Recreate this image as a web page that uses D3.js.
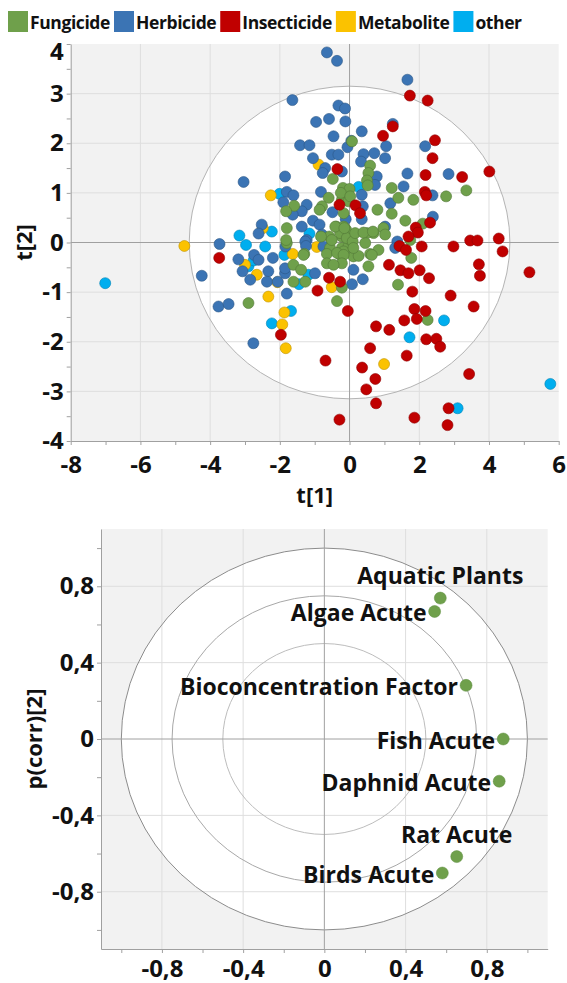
<!DOCTYPE html>
<html>
<head>
<meta charset="utf-8">
<script src="https://cdn.jsdelivr.net/npm/d3@7/dist/d3.min.js"></script>
<style>
  body { margin: 0; background: #fff; }
  svg { display: block; font-family: "Open Sans", sans-serif; font-weight: bold; }
</style>
</head>
<body>
<svg id="chart" width="567" height="983"></svg>
<script>
// Classes of the score plot
var classNames = ['Fungicide', 'Herbicide', 'Insecticide', 'Metabolite', 'other'];
var classColours = ['#6fa04b', '#3b74b4', '#c00000', '#fbc200', '#00aeef'];

// Scores t[1], t[2] per class
var fungicide = [[-0.48,1.28],[-0.19,1.10],[0.00,1.08],[-0.60,0.90],[-0.79,0.73],[-0.86,0.66],[-1.59,0.74],[-0.22,0.86],[-0.03,0.83],[-1.80,0.29],[-1.80,-0.01],[-1.30,-0.23],[-0.38,0.32],[-0.58,0.12],[-0.82,0.12],[-0.22,0.12],[-0.10,0.26],[-0.56,-0.11],[-0.22,-0.11],[-0.03,-0.08],[-0.65,-0.23],[-0.27,-0.25],[0.02,0.05],[0.11,-0.28],[0.59,1.55],[0.54,1.40],[0.50,1.25],[0.52,1.15],[1.21,1.10],[1.40,0.90],[1.83,0.86],[2.77,0.93],[3.35,1.05],[0.80,0.66],[1.21,0.58],[1.60,0.44],[2.10,0.38],[0.97,0.29],[0.69,0.19],[1.02,0.16],[0.50,0.19],[0.45,-0.01],[0.83,-0.15],[0.59,-0.23],[1.74,0.05],[0.26,-0.27],[-0.25,1.00],[0.02,0.93],[-0.17,0.59],[-0.17,0.32],[-0.27,0.19],[-0.08,0.09],[0.09,0.02],[-0.17,-0.18],[0.11,-0.11],[0.07,2.04],[-0.41,0.32],[-0.15,0.29],[0.16,0.19],[0.40,0.20],[0.67,0.22],[-0.51,0.05],[-1.82,0.05],[-1.32,-0.25],[-1.61,-0.45],[-1.39,-0.55],[-1.61,-0.79],[-1.27,-0.79],[-2.90,-1.22],[-0.36,-0.21],[-0.17,-0.25],[-0.22,-0.42],[-0.65,-0.42],[-0.46,-0.45],[0.54,-0.48],[0.64,-0.25],[-0.22,-0.91],[-0.36,-1.18],[1.39,-0.85],[1.77,-0.31],[2.24,-1.56],[-1.82,0.63]];
var herbicide = [[-0.65,3.83],[-0.36,3.66],[1.66,3.28],[-1.64,2.87],[-0.32,2.76],[-0.13,2.70],[-0.96,2.43],[-0.59,2.49],[-0.12,2.44],[1.24,2.39],[0.35,2.24],[-0.46,2.14],[-1.42,1.96],[-1.15,1.96],[-0.06,1.92],[0.05,2.05],[-1.05,1.70],[-0.51,1.77],[-0.32,1.77],[0.40,1.78],[0.71,1.80],[1.05,1.94],[1.02,1.70],[0.33,1.63],[-0.70,1.50],[-0.77,1.40],[-0.22,1.43],[2.17,1.94],[0.78,1.33],[1.66,1.39],[2.84,1.38],[-1.85,1.33],[-0.82,1.02],[0.73,1.16],[1.55,1.13],[2.38,0.95],[-1.80,1.02],[-1.61,0.95],[-1.90,0.81],[-0.06,1.05],[0.35,0.96],[1.17,0.79],[-1.23,0.76],[-0.49,0.61],[-1.37,0.63],[-1.63,0.56],[0.35,0.47],[-0.11,0.47],[-1.05,0.44],[2.39,0.52],[-1.23,0.05],[1.37,0.02],[-3.04,1.22],[-0.86,0.36],[-2.52,0.36],[-2.61,0.18],[-3.73,-0.03],[-1.37,0.32],[-1.27,0.02],[-1.25,-0.07],[-2.74,-0.25],[-3.19,-0.34],[-2.20,-0.31],[-0.75,-0.08],[0.38,0.73],[1.02,0.32],[1.31,-0.11],[-4.24,-0.67],[-3.76,-1.29],[-3.47,-1.24],[-2.76,-2.03],[-2.85,-0.75],[-2.61,-0.35],[-2.33,-0.58],[-2.37,-0.79],[-2.06,-0.79],[-1.85,-0.62],[-1.85,-0.52],[-1.80,-1.03],[-0.99,-0.62],[0.11,-0.55],[0.38,-0.74],[0.07,-0.84],[-3.07,-0.58],[-1.84,-0.08],[-0.79,0.16]];
var insecticide = [[1.73,2.96],[2.24,2.86],[2.45,2.06],[2.38,1.70],[1.24,2.34],[0.96,2.15],[4.01,1.43],[3.23,1.32],[2.18,1.36],[2.16,1.02],[2.20,0.95],[-0.35,1.48],[0.17,0.75],[0.30,0.59],[-0.29,0.76],[2.31,0.40],[1.90,0.30],[1.96,0.20],[1.69,0.12],[4.28,0.08],[3.46,0.04],[3.67,0.04],[1.43,-0.07],[1.62,-0.15],[2.07,-0.08],[2.98,-0.08],[4.39,-0.18],[1.13,-0.45],[1.46,-0.56],[1.69,-0.62],[2.01,-0.56],[2.28,-0.72],[3.71,-0.44],[3.74,-0.67],[5.16,-0.60],[-0.59,-0.71],[-0.92,-0.97],[-0.27,-0.79],[1.80,-0.99],[2.90,-1.07],[3.56,-1.29],[-0.05,-1.38],[1.86,-1.34],[2.18,-1.38],[1.57,-1.57],[1.93,-1.54],[0.76,-1.69],[1.14,-1.76],[2.20,-1.95],[2.49,-1.94],[2.60,-2.10],[0.59,-2.13],[1.64,-2.28],[-0.69,-2.38],[0.36,-2.52],[0.74,-2.75],[0.48,-2.96],[3.43,-2.65],[0.76,-3.24],[2.84,-3.34],[2.81,-3.68],[1.86,-3.53],[-0.29,-3.57],[-3.74,-0.31],[-1.97,-1.86]];
var metabolite = [[-4.74,-0.07],[-2.26,0.95],[-2.49,0.29],[-1.63,-0.23],[-0.89,1.57],[-0.94,-0.09],[-3.00,-0.45],[-2.66,-0.65],[-2.33,-1.09],[-1.87,-1.41],[-1.93,-1.65],[-1.83,-2.13],[-0.51,-0.90],[-2.07,-0.80],[0.99,-2.45]];
var other = [[-7.01,-0.82],[5.76,-2.85],[3.10,-3.34],[2.71,-1.57],[1.72,-1.91],[-1.68,-1.38],[-1.45,-0.84],[-1.18,-0.65],[-2.23,-1.63],[-2.90,-0.48],[-2.42,-0.08],[-2.97,-0.05],[-3.16,0.14],[-2.23,0.22],[-2.01,0.98],[-1.15,0.18],[-1.87,-0.25],[0.26,1.12],[-2.75,-0.36]];

// Tick values
var scoreXTicks = [-8, -6, -4, -2, 0, 2, 4, 6];
var scoreYTicks = [-4, -3, -2, -1, 0, 1, 2, 3, 4];
var loadingTicks = [-0.8, -0.4, 0, 0.4, 0.8];

// Loadings p(corr)[1], p(corr)[2]
var loadingNames = ['Aquatic Plants', 'Algae Acute', 'Bioconcentration Factor', 'Fish Acute', 'Daphnid Acute', 'Rat Acute', 'Birds Acute'];
var loadingX = [0.571, 0.543, 0.698, 0.881, 0.861, 0.652, 0.581];
var loadingY = [0.738, 0.668, 0.281, 0.000, -0.221, -0.616, -0.702];

// label placement: 'above' = centred over the point, otherwise to the left
var labelAbove = {'Aquatic Plants': true, 'Rat Acute': true};

var svg = d3.select('#chart');
var locale = d3.formatLocale({decimal: ',', thousands: '.', grouping: [3], currency: ['', ''], minus: '-'});
var fmtInt = locale.format('d');
var fmtDec = function(d) { return d === 0 ? '0' : locale.format('.1f')(d); };

var gridCol = '#dedede', axisCol = '#a0a0a0', bgCol = '#f2f2f2';

// ---------- Legend ----------
var legend = svg.append('g');
var lx0 = 8;
classNames.forEach(function(name, i) {
  legend.append('rect')
    .attr('x', lx0).attr('y', 11)
    .attr('width', 20).attr('height', 21)
    .attr('fill', classColours[i]);
  var t = legend.append('text')
    .attr('x', lx0 + 22).attr('y', 29)
    .style('font-size', '17.5px')
    .style('letter-spacing', '-0.4px')
    .attr('fill', '#111')
    .text(name);
  lx0 += 22 + t.node().getComputedTextLength() + 4;
});

// ---------- Score plot ----------
var sx = d3.scaleLinear().domain([-8, 6]).range([70.7, 558.7]);
var sy = d3.scaleLinear().domain([-4, 4]).range([441, 44]);

var scoreG = svg.append('g');
scoreG.append('rect')
  .attr('x', sx(-8)).attr('y', sy(4))
  .attr('width', sx(6) - sx(-8)).attr('height', sy(-4) - sy(4))
  .attr('fill', bgCol);
// Hotelling T2 ellipse
var ellRx = 4.6, ellRy = 3.15;
scoreG.append('ellipse')
  .attr('cx', sx(0)).attr('cy', sy(0))
  .attr('rx', sx(ellRx) - sx(0)).attr('ry', sy(0) - sy(ellRy))
  .attr('fill', '#fff');

scoreG.selectAll('.gx').data(scoreXTicks.filter(function(d) { return d !== 0 && d !== -8 && d !== 6; }))
  .enter().append('line')
  .attr('x1', function(d) { return sx(d); }).attr('x2', function(d) { return sx(d); })
  .attr('y1', sy(4)).attr('y2', sy(-4))
  .attr('stroke', gridCol);
scoreG.selectAll('.gy').data(scoreYTicks.filter(function(d) { return d !== 0 && Math.abs(d) !== 4; }))
  .enter().append('line')
  .attr('y1', function(d) { return sy(d); }).attr('y2', function(d) { return sy(d); })
  .attr('x1', sx(-8)).attr('x2', sx(6))
  .attr('stroke', gridCol);

scoreG.append('ellipse')
  .attr('cx', sx(0)).attr('cy', sy(0))
  .attr('rx', sx(ellRx) - sx(0)).attr('ry', sy(0) - sy(ellRy))
  .attr('fill', 'none').attr('stroke', '#b4b4b4');

scoreG.append('line').attr('x1', sx(0)).attr('x2', sx(0)).attr('y1', sy(4)).attr('y2', sy(-4)).attr('stroke', axisCol);
scoreG.append('line').attr('y1', sy(0)).attr('y2', sy(0)).attr('x1', sx(-8)).attr('x2', sx(6)).attr('stroke', axisCol);

var xAxisTop = scoreG.append('g')
  .attr('transform', 'translate(0,' + sy(-4) + ')')
  .call(d3.axisBottom(sx).tickValues(d3.range(-8, 6.01, 1))
    .tickFormat(function(d) { return scoreXTicks.indexOf(d) >= 0 ? fmtInt(d) : ''; })
    .tickSize(4).tickSizeOuter(0).tickPadding(11));
var yAxisTop = scoreG.append('g')
  .attr('transform', 'translate(' + sx(-8) + ',0)')
  .call(d3.axisLeft(sy).tickValues(d3.range(-4, 4.01, 0.5))
    .tickFormat(function(d) { return scoreYTicks.indexOf(d) >= 0 ? fmtInt(d) : ''; })
    .tickSize(4).tickSizeOuter(0).tickPadding(3));

// Points
var pointSets = [
  {name: 'other', data: other},
  {name: 'Metabolite', data: metabolite},
  {name: 'Herbicide', data: herbicide},
  {name: 'Fungicide', data: fungicide},
  {name: 'Insecticide', data: insecticide}
];
pointSets.forEach(function(set) {
  var col = classColours[classNames.indexOf(set.name)];
  scoreG.append('g').selectAll('circle')
    .data(set.data)
    .enter().append('circle')
    .attr('cx', function(d) { return sx(d[0]); })
    .attr('cy', function(d) { return sy(d[1]); })
    .attr('r', 5.5)
    .attr('fill', col)
    .attr('stroke', d3.color(col).darker(0.8))
    .attr('stroke-width', 0.6);
});

scoreG.append('text')
  .attr('x', (sx(-8) + sx(6)) / 2).attr('y', 503)
  .attr('text-anchor', 'middle')
  .style('font-size', '22px').attr('fill', '#111')
  .text('t[1]');
scoreG.append('text')
  .attr('transform', 'translate(32,' + sy(0) + ') rotate(-90)')
  .attr('text-anchor', 'middle')
  .style('font-size', '22px').attr('fill', '#111')
  .text('t[2]');

// ---------- Loading plot ----------
var lx = d3.scaleLinear().domain([-1.1, 1.1]).range([101, 547.7]);
var ly = d3.scaleLinear().domain([-1.1, 1.1]).range([949, 529]);

var loadG = svg.append('g');
loadG.append('rect')
  .attr('x', lx(-1.1)).attr('y', ly(1.1))
  .attr('width', lx(1.1) - lx(-1.1)).attr('height', ly(-1.1) - ly(1.1))
  .attr('fill', bgCol);
loadG.append('ellipse')
  .attr('cx', lx(0)).attr('cy', ly(0))
  .attr('rx', lx(1) - lx(0)).attr('ry', ly(0) - ly(1))
  .attr('fill', '#fff');

var gridVals = loadingTicks.filter(function(d) { return d !== 0; });
loadG.selectAll('.gx').data(gridVals).enter().append('line')
  .attr('x1', function(d) { return lx(d); }).attr('x2', function(d) { return lx(d); })
  .attr('y1', ly(1.1)).attr('y2', ly(-1.1))
  .attr('stroke', gridCol);
loadG.selectAll('.gy').data(gridVals).enter().append('line')
  .attr('y1', function(d) { return ly(d); }).attr('y2', function(d) { return ly(d); })
  .attr('x1', lx(-1.1)).attr('x2', lx(1.1))
  .attr('stroke', gridCol);

var rings = [{r: 1, c: '#8c8c8c'}, {r: 0.75, c: '#a8a8a8'}, {r: 0.5, c: '#bdbdbd'}];
loadG.selectAll('.ring').data(rings).enter().append('ellipse')
  .attr('cx', lx(0)).attr('cy', ly(0))
  .attr('rx', function(d) { return lx(d.r) - lx(0); })
  .attr('ry', function(d) { return ly(0) - ly(d.r); })
  .attr('fill', 'none')
  .attr('stroke', function(d) { return d.c; });

loadG.append('line').attr('x1', lx(0)).attr('x2', lx(0)).attr('y1', ly(1.1)).attr('y2', ly(-1.1)).attr('stroke', axisCol);
loadG.append('line').attr('y1', ly(0)).attr('y2', ly(0)).attr('x1', lx(-1.1)).attr('x2', lx(1.1)).attr('stroke', axisCol);

var minor = d3.range(-10, 11, 2).map(function(d) { return d / 10; });
var isMajor = function(d) { return loadingTicks.some(function(t) { return Math.abs(t - d) < 1e-9; }); };
var xAxisBot = loadG.append('g')
  .attr('transform', 'translate(0,' + ly(-1.1) + ')')
  .call(d3.axisBottom(lx).tickValues(minor)
    .tickFormat(function(d) { return isMajor(d) ? fmtDec(d) : ''; })
    .tickSize(4).tickSizeOuter(0).tickPadding(7));
var yAxisBot = loadG.append('g')
  .attr('transform', 'translate(' + lx(-1.1) + ',0)')
  .call(d3.axisLeft(ly).tickValues(minor)
    .tickFormat(function(d) { return isMajor(d) ? fmtDec(d) : ''; })
    .tickSize(4).tickSizeOuter(0).tickPadding(3));

[xAxisTop, yAxisTop, xAxisBot, yAxisBot].forEach(function(ax) {
  ax.select('.domain').attr('stroke', axisCol);
  ax.selectAll('.tick line').attr('stroke', axisCol);
  ax.selectAll('text')
    .style('font-family', '"Open Sans", sans-serif')
    .style('font-weight', 'bold')
    .style('font-size', '24px')
    .attr('fill', '#111');
});
// the top label sits a little lower, clear of the legend
yAxisTop.selectAll('.tick')
  .filter(function(d) { return d === 4; })
  .select('text').attr('dy', '0.66em');

var loadings = loadingNames.map(function(n, i) { return {name: n, x: loadingX[i], y: loadingY[i]}; });
loadG.append('g').selectAll('circle')
  .data(loadings).enter().append('circle')
  .attr('cx', function(d) { return lx(d.x); })
  .attr('cy', function(d) { return ly(d.y); })
  .attr('r', 6)
  .attr('fill', '#6fa04b')
  .attr('stroke', '#5d8c3e').attr('stroke-width', 0.5);

loadG.append('g').selectAll('text')
  .data(loadings).enter().append('text')
  .attr('x', function(d) { return lx(d.x) + (labelAbove[d.name] ? 0 : -8); })
  .attr('y', function(d) { return ly(d.y) + (labelAbove[d.name] ? -14 : 9.5); })
  .attr('text-anchor', function(d) { return labelAbove[d.name] ? 'middle' : 'end'; })
  .style('font-size', '23px')
  .attr('fill', '#111')
  .text(function(d) { return d.name; });

loadG.append('text')
  .attr('transform', 'translate(42,' + ly(0) + ') rotate(-90)')
  .attr('text-anchor', 'middle')
  .style('font-size', '22px').attr('fill', '#111')
  .text('p(corr)[2]');
</script>
</body>
</html>
